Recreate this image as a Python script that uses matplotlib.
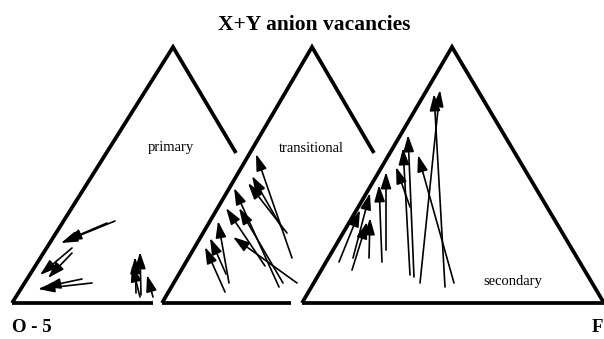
import matplotlib
matplotlib.use('Agg')
import matplotlib.pyplot as plt

plt.rcParams['font.family'] = ['Liberation Serif', 'DejaVu Serif']

# outlines of the three sub-triangles (image-like units, y grows downward)
tri_x = [[12, 173, 236], [162, 312, 374], [302, 452, 604]]
tri_y = [[303, 47, 153], [303, 47, 153], [303, 47, 303]]
base_x = [[12, 153], [162, 291], [302, 604]]
base_y = 303

# arrows: tail -> head
prim_tx = [115, 107, 72, 72, 92, 82, 140, 136, 141, 153]
prim_ty = [221, 223, 248, 253, 283, 279, 297, 293, 295, 297]
prim_hx = [61, 65, 40, 48, 38, 44, 132, 135, 140, 147]
prim_hy = [243, 241, 275, 278, 289, 287, 265, 257, 252, 275]

trans_tx = [292, 287, 283, 279, 283, 297, 265, 225, 229, 226]
trans_ty = [258, 233, 230, 287, 283, 283, 266, 292, 283, 274]
trans_hx = [256, 248, 252, 234, 239, 233, 226, 205, 218, 210]
trans_hy = [154, 183, 176, 188, 208, 237, 208, 247, 221, 238]

sec_tx = [420, 445, 454, 410, 414, 410, 386, 382, 339, 353, 352, 369]
sec_ty = [283, 287, 283, 275, 277, 207, 250, 262, 262, 258, 270, 258]
sec_hx = [440, 434, 418, 403, 408, 396, 386, 379, 360, 370, 367, 370]
sec_hy = [90, 94, 155, 148, 135, 167, 172, 185, 210, 193, 222, 218]

labels = ['primary', 'transitional', 'secondary']
label_x = [171, 311, 513]
label_y = [148, 148, 281]

fig = plt.figure(figsize=(6.04, 3.39), dpi=100)
ax = fig.add_axes([0, 0, 1, 1])
ax.set_xlim(0, 604)
ax.set_ylim(339, 0)
ax.axis('off')

for xs, ys in zip(tri_x, tri_y):
    ax.plot(xs, ys, color='k', lw=2.7, solid_capstyle='butt', solid_joinstyle='miter')
for xs in base_x:
    ax.plot(xs, [base_y, base_y], color='k', lw=2.7, solid_capstyle='butt')

arrow_sets = [(prim_tx, prim_ty, prim_hx, prim_hy),
              (trans_tx, trans_ty, trans_hx, trans_hy),
              (sec_tx, sec_ty, sec_hx, sec_hy)]
for tx, ty, hx, hy in arrow_sets:
    for x0, y0, x1, y1 in zip(tx, ty, hx, hy):
        ax.annotate('', xy=(x1, y1), xytext=(x0, y0),
                    arrowprops=dict(arrowstyle='-|>,head_length=1.0,head_width=0.32',
                                    lw=1.2, color='k', shrinkA=0, shrinkB=0))

for s, x, y in zip(labels, label_x, label_y):
    ax.text(x, y, s, ha='center', va='center', fontsize=10.5)

ax.text(314, 25, 'X+Y anion vacancies', ha='center', va='center',
        fontsize=15.5, fontweight='bold')
ax.text(12, 328, 'O - 5', ha='left', va='center', fontsize=13.5, fontweight='bold')
ax.text(603, 328, 'F', ha='right', va='center', fontsize=13.5, fontweight='bold')

fig.savefig('out.png', dpi=100)
